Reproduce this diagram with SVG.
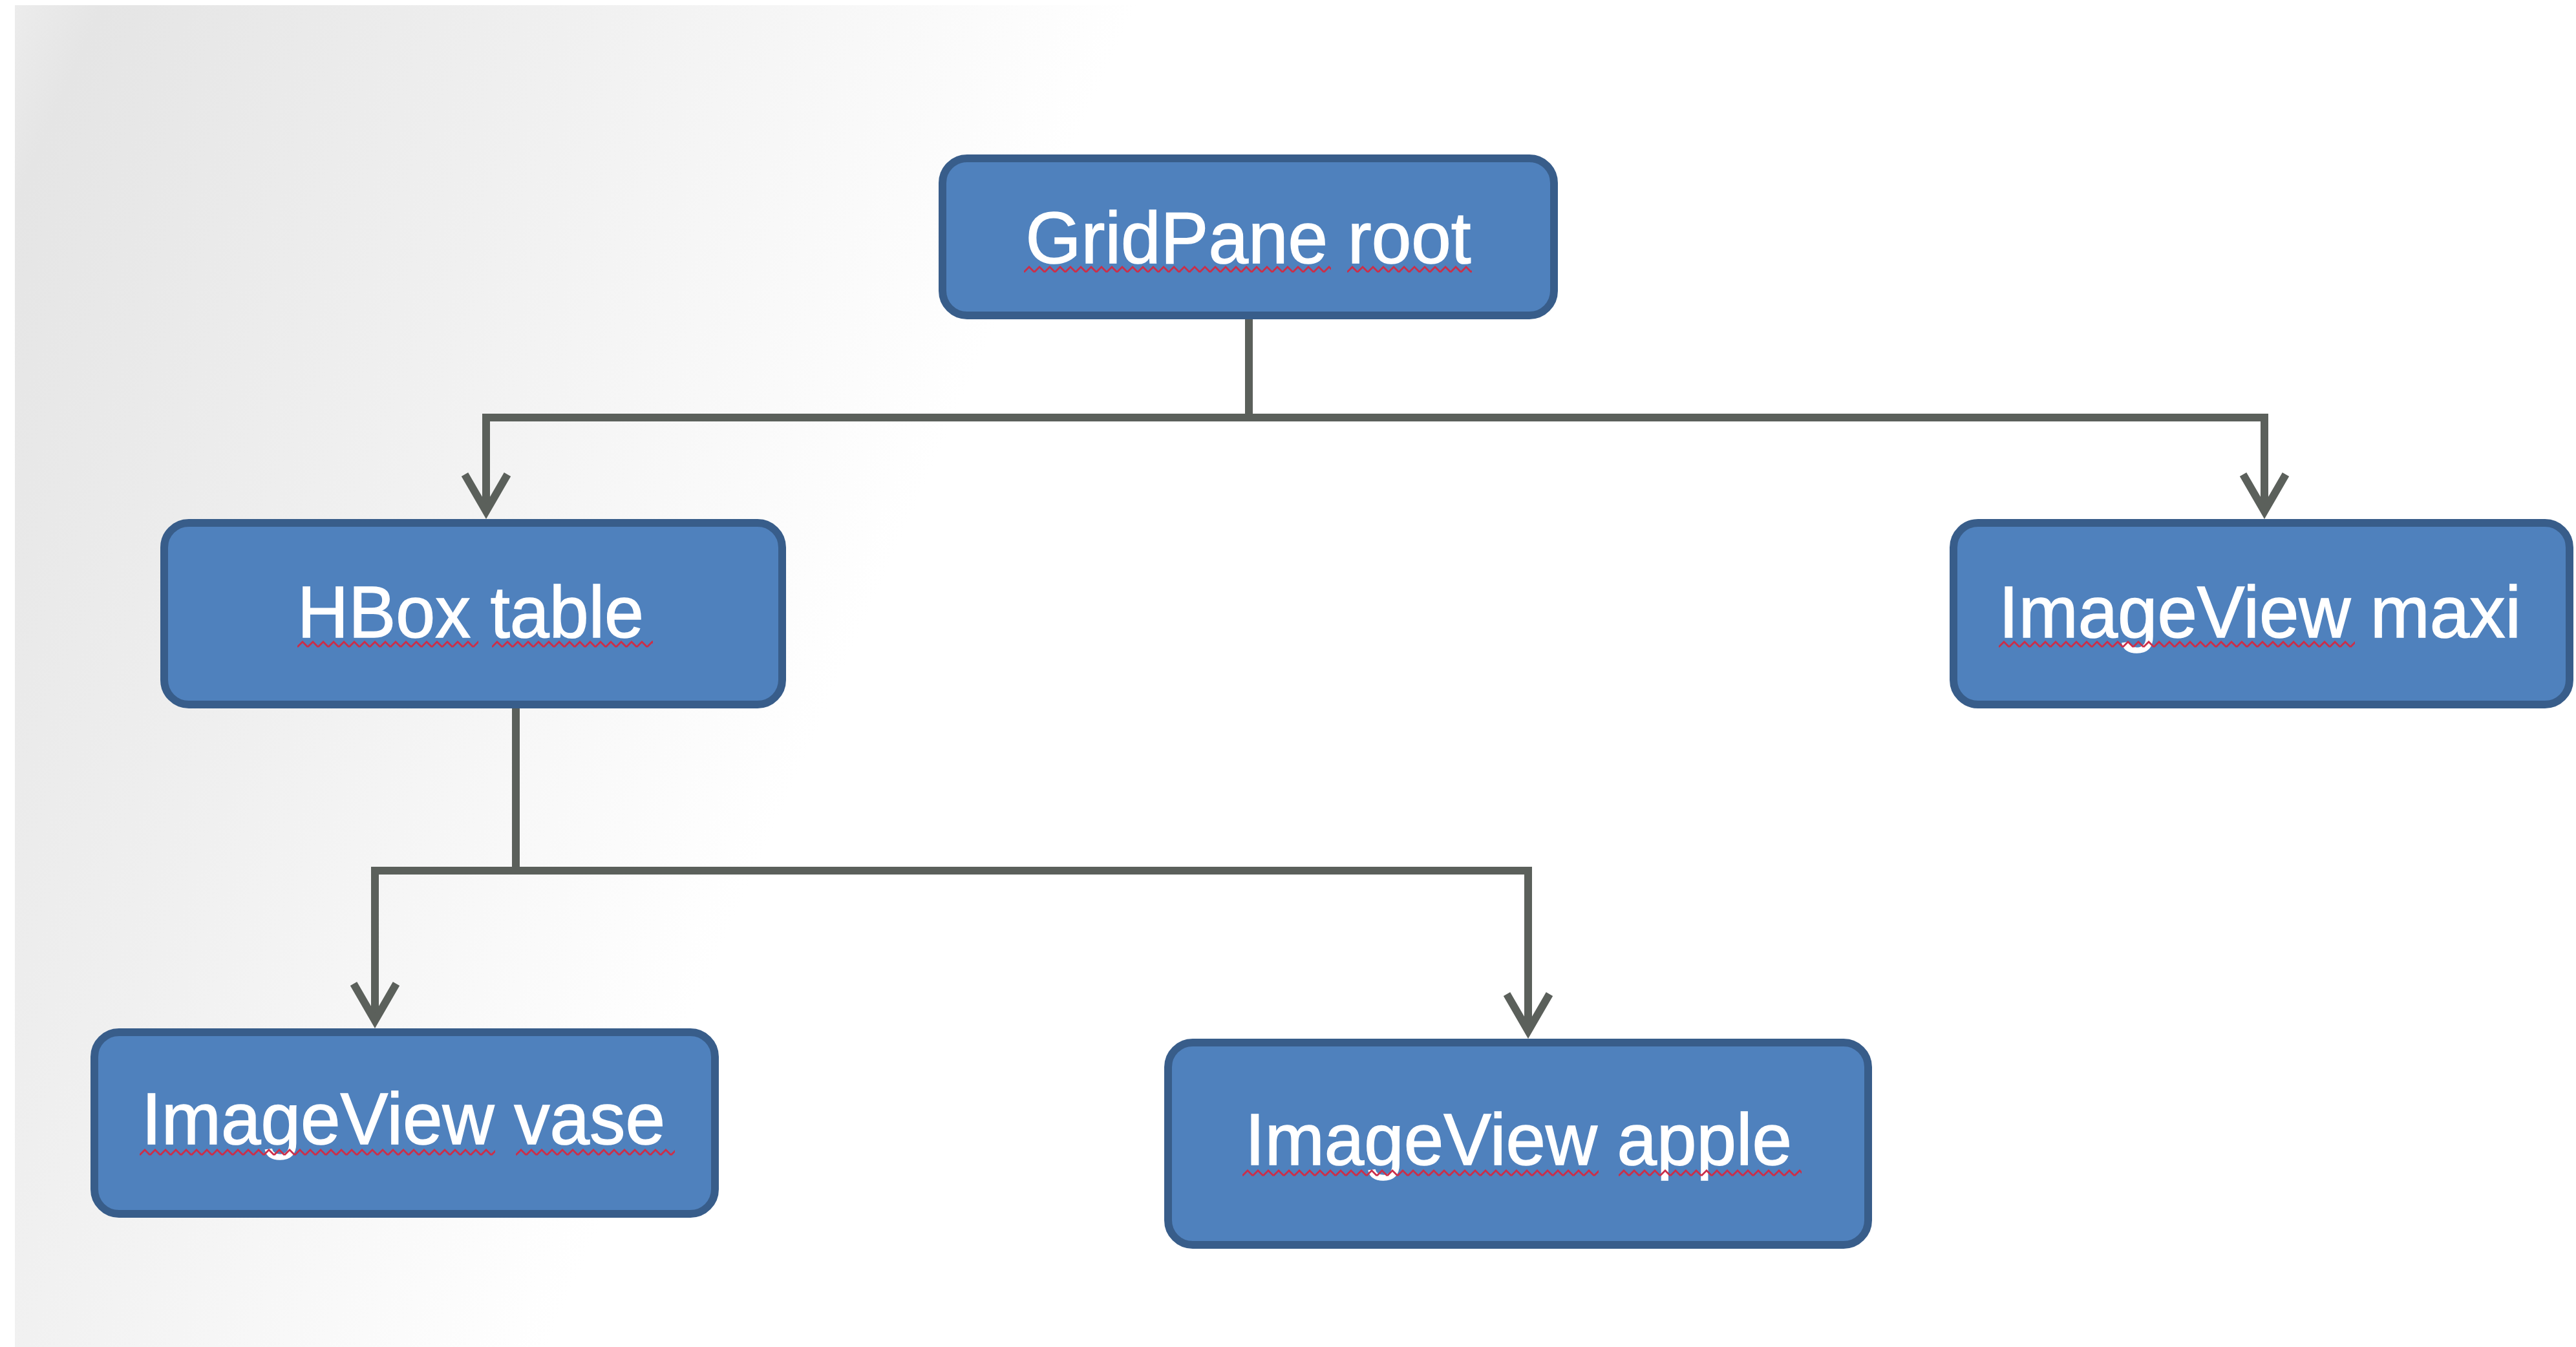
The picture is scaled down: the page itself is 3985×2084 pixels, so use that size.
<svg xmlns="http://www.w3.org/2000/svg" width="3985" height="2084" viewBox="0 0 3985 2084">
  <defs>
    <!-- soft grey wash on the upper-left of the slide -->
    <linearGradient id="wash" gradientUnits="userSpaceOnUse" x1="23" y1="0" x2="1480" y2="640">
      <stop offset="0" stop-color="#ececec"/>
      <stop offset="0.08" stop-color="#e5e5e5"/>
      <stop offset="0.5" stop-color="#f0f0f0"/>
      <stop offset="1" stop-color="#ffffff"/>
    </linearGradient>
    <!-- red wavy underline -->
    <pattern id="squiggle" patternUnits="userSpaceOnUse" x="0" y="0" width="16" height="14">
      <polyline points="0,11 8,3 16,11" fill="none" stroke="#cc2e48" stroke-width="2.8"/>
    </pattern>
    <marker id="arrow" markerUnits="userSpaceOnUse" orient="auto" refX="0" refY="0"
            markerWidth="140" markerHeight="140" viewBox="-70 -70 140 140" overflow="visible">
      <path d="M-57,-33 L0,0 L-57,33" fill="none" stroke="#5b605b" stroke-width="12" stroke-linejoin="miter"/>
    </marker>
  </defs>
  <style>
    .box { fill: #4f81bd; stroke: #385d8a; stroke-width: 12; }
    .label { fill: #ffffff; stroke: #ffffff; stroke-width: 1.5; font-family: "Liberation Sans", Arial, sans-serif; font-size: 114px; text-anchor: middle; }
    .wire { fill: none; stroke: #5b605b; stroke-width: 12; stroke-linejoin: miter; }
    .squig { fill: url(#squiggle); }
  </style>

  <!-- background -->
  <rect x="0" y="0" width="3985" height="2084" fill="#ffffff"/>
  <rect x="23" y="8" width="3962" height="2076" fill="url(#wash)"/>

  <!-- connectors -->
  <g id="connectors">
    <path class="wire" d="M1932,494 V646 H752 V791" marker-end="url(#arrow)"/>
    <path class="wire" d="M1932,646 H3503 V791" marker-end="url(#arrow)"/>
    <path class="wire" d="M798,1096 V1347 H580 V1579" marker-end="url(#arrow)"/>
    <path class="wire" d="M798,1347 H2364 V1595" marker-end="url(#arrow)"/>
  </g>

  <g id="node-gridpane-root">
    <rect class="box" x="1458" y="245" width="946" height="243" rx="38"/>
    <text class="label" x="1931" y="407" textLength="689" lengthAdjust="spacingAndGlyphs">GridPane root</text>
    <g transform="translate(1584,410)"><rect class="squig" width="475" height="14"/></g>
    <g transform="translate(2084,410)"><rect class="squig" width="193" height="14"/></g>
  </g>

  <g id="node-hbox-table">
    <rect class="box" x="254" y="809" width="956" height="281" rx="38"/>
    <text class="label" x="728" y="986" textLength="536" lengthAdjust="spacingAndGlyphs">HBox table</text>
    <g transform="translate(460,990)"><rect class="squig" width="280" height="14"/></g>
    <g transform="translate(761,990)"><rect class="squig" width="249" height="14"/></g>
  </g>

  <g id="node-imageview-maxi">
    <rect class="box" x="3022" y="809" width="953" height="281" rx="38"/>
    <text class="label" x="3496" y="986" textLength="808" lengthAdjust="spacingAndGlyphs">ImageView maxi</text>
    <g transform="translate(3092,990)"><rect class="squig" width="551" height="14"/></g>
  </g>

  <g id="node-imageview-vase">
    <rect class="box" x="146" y="1597" width="960" height="281" rx="38"/>
    <text class="label" x="624" y="1770" textLength="810" lengthAdjust="spacingAndGlyphs">ImageView vase</text>
    <g transform="translate(216,1776)"><rect class="squig" width="550" height="14"/></g>
    <g transform="translate(798,1776)"><rect class="squig" width="246" height="14"/></g>
  </g>

  <g id="node-imageview-apple">
    <rect class="box" x="1807" y="1613" width="1083" height="313" rx="38"/>
    <text class="label" x="2349" y="1802" textLength="846" lengthAdjust="spacingAndGlyphs">ImageView apple</text>
    <g transform="translate(1922,1808)"><rect class="squig" width="551" height="14"/></g>
    <g transform="translate(2504,1808)"><rect class="squig" width="283" height="14"/></g>
  </g>
</svg>
